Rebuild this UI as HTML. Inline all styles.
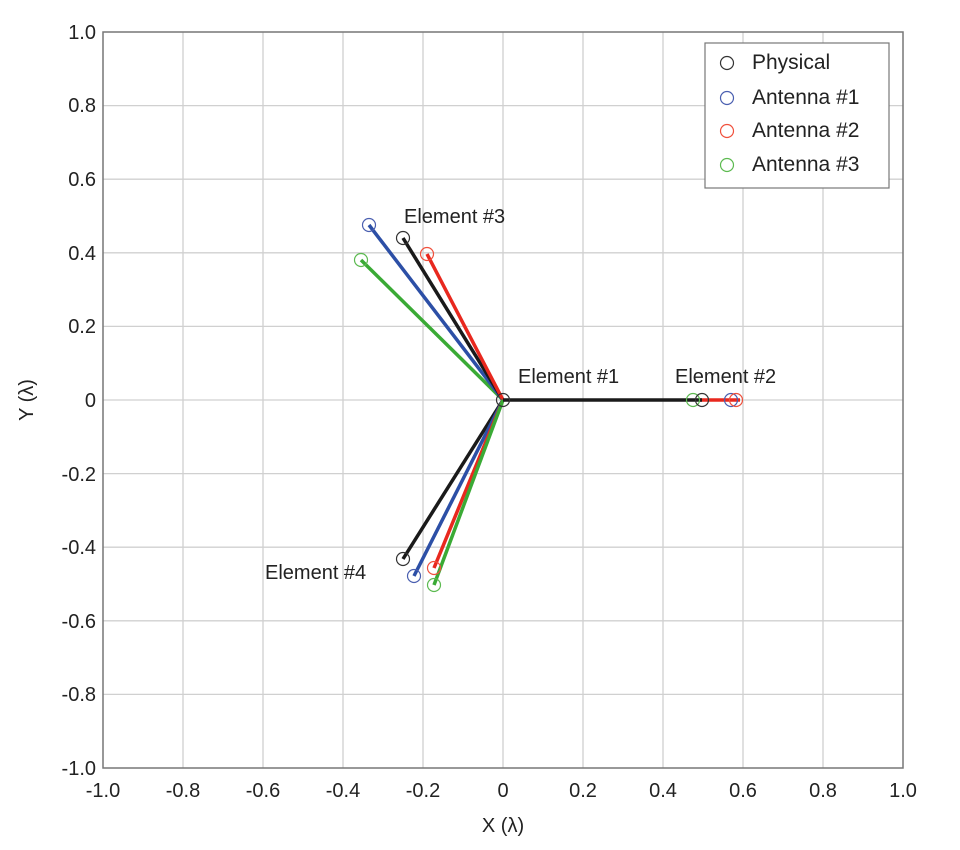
<!DOCTYPE html>
<html><head><style>body{margin:0;background:#fff}svg{display:block}text{font-family:"Liberation Sans",sans-serif;fill:#222}</style></head>
<body>
<svg width="960" height="850" viewBox="0 0 960 850" xmlns="http://www.w3.org/2000/svg">
<rect width="960" height="850" fill="#fff"/>
<g stroke="#d0d0d0" stroke-width="1.3">
<line x1="183" y1="32" x2="183" y2="768"/><line x1="263" y1="32" x2="263" y2="768"/><line x1="343" y1="32" x2="343" y2="768"/><line x1="423" y1="32" x2="423" y2="768"/><line x1="503" y1="32" x2="503" y2="768"/><line x1="583" y1="32" x2="583" y2="768"/><line x1="663" y1="32" x2="663" y2="768"/><line x1="743" y1="32" x2="743" y2="768"/><line x1="823" y1="32" x2="823" y2="768"/>
<line x1="103" y1="105.6" x2="903" y2="105.6"/><line x1="103" y1="179.2" x2="903" y2="179.2"/><line x1="103" y1="252.8" x2="903" y2="252.8"/><line x1="103" y1="326.4" x2="903" y2="326.4"/><line x1="103" y1="400" x2="903" y2="400"/><line x1="103" y1="473.6" x2="903" y2="473.6"/><line x1="103" y1="547.2" x2="903" y2="547.2"/><line x1="103" y1="620.8" x2="903" y2="620.8"/><line x1="103" y1="694.4" x2="903" y2="694.4"/>
</g>
<rect x="103" y="32" width="800" height="736" fill="none" stroke="#777" stroke-width="1.5"/>
<g font-size="20" text-anchor="end">
<text x="96" y="39">1.0</text><text x="96" y="112">0.8</text><text x="96" y="186">0.6</text><text x="96" y="260">0.4</text><text x="96" y="333">0.2</text><text x="96" y="407">0</text><text x="96" y="481">-0.2</text><text x="96" y="554">-0.4</text><text x="96" y="628">-0.6</text><text x="96" y="701">-0.8</text><text x="96" y="775">-1.0</text>
</g>
<g font-size="20" text-anchor="middle">
<text x="103" y="797">-1.0</text><text x="183" y="797">-0.8</text><text x="263" y="797">-0.6</text><text x="343" y="797">-0.4</text><text x="423" y="797">-0.2</text><text x="503" y="797">0</text><text x="583" y="797">0.2</text><text x="663" y="797">0.4</text><text x="743" y="797">0.6</text><text x="823" y="797">0.8</text><text x="903" y="797">1.0</text>
<text x="503" y="832">X (λ)</text>
<text transform="translate(33,400) rotate(-90)">Y (λ)</text>
</g>
<g stroke-width="3.5" fill="none">
<line x1="503" y1="400" x2="361" y2="260" stroke="#3aaa35"/>
<line x1="503" y1="400" x2="369" y2="225" stroke="#2c4fa6"/>
<line x1="503" y1="400" x2="403" y2="238" stroke="#1a1a1a"/>
<line x1="503" y1="400" x2="427" y2="254" stroke="#e8281e"/>
<line x1="503" y1="400" x2="403" y2="559" stroke="#1a1a1a"/>
<line x1="503" y1="400" x2="414" y2="576" stroke="#2c4fa6"/>
<line x1="503" y1="400" x2="434" y2="568" stroke="#e8281e"/>
<line x1="503" y1="400" x2="434" y2="585" stroke="#3aaa35"/>
<line x1="700" y1="400" x2="740" y2="400" stroke="#e8281e"/>
<line x1="503" y1="400" x2="702" y2="400" stroke="#1a1a1a"/>
</g>
<g fill="none" stroke-width="1.2">
<circle cx="503" cy="400" r="6.5" stroke="#333"/>
<circle cx="369" cy="225" r="6.5" stroke="#4a5fb0"/><circle cx="403" cy="238" r="6.5" stroke="#333"/><circle cx="427" cy="254" r="6.5" stroke="#f0503c"/><circle cx="361" cy="260" r="6.5" stroke="#5cba50"/>
<circle cx="693" cy="400" r="6.5" stroke="#5cba50"/><circle cx="702" cy="400" r="6.5" stroke="#333"/><circle cx="731" cy="400" r="6.5" stroke="#4a5fb0"/><circle cx="736" cy="400" r="6.5" stroke="#f0503c"/>
<circle cx="403" cy="559" r="6.5" stroke="#333"/><circle cx="414" cy="576" r="6.5" stroke="#4a5fb0"/><circle cx="434" cy="568" r="6.5" stroke="#f0503c"/><circle cx="434" cy="585" r="6.5" stroke="#5cba50"/>
</g>
<g font-size="20">
<text x="404" y="223">Element #3</text>
<text x="518" y="383">Element #1</text>
<text x="675" y="383">Element #2</text>
<text x="265" y="579">Element #4</text>
</g>
<rect x="705" y="43" width="184" height="145" fill="#fff" stroke="#777" stroke-width="1.2"/>
<g fill="none" stroke-width="1.2">
<circle cx="727" cy="63" r="6.5" stroke="#333"/><circle cx="727" cy="98" r="6.5" stroke="#4a5fb0"/><circle cx="727" cy="131" r="6.5" stroke="#f0503c"/><circle cx="727" cy="165" r="6.5" stroke="#5cba50"/>
</g>
<g font-size="21">
<text x="752" y="69">Physical</text><text x="752" y="104">Antenna #1</text><text x="752" y="137">Antenna #2</text><text x="752" y="171">Antenna #3</text>
</g>
</svg>
</body></html>
